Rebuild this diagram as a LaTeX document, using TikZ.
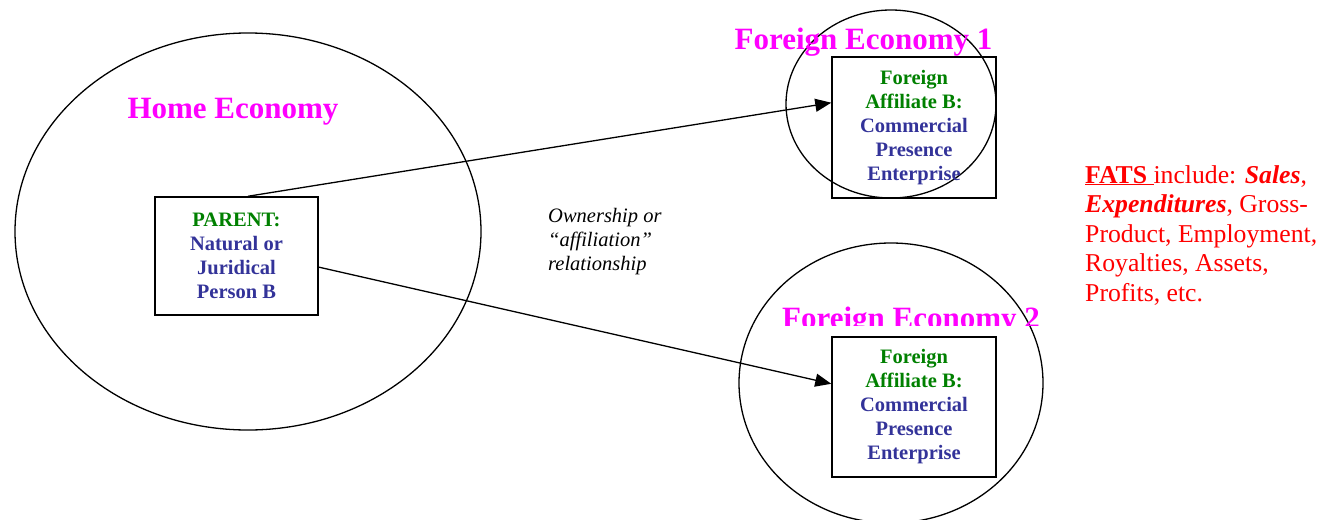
\documentclass[tikz,border=0pt]{standalone}
\usepackage{fontspec}
\setmainfont{LiberationSerif}[Extension=.ttf, UprightFont=*-Regular, BoldFont=*-Bold, ItalicFont=*-Italic, BoldItalicFont=*-BoldItalic]
\usetikzlibrary{shapes.geometric,arrows.meta,calc}
\definecolor{econmag}{RGB}{255,0,255}
\definecolor{pgreen}{RGB}{0,128,0}
\definecolor{pblue}{RGB}{51,51,153}
\definecolor{fred}{RGB}{255,0,0}
\tikzset{
  econring/.style={draw, ellipse, line width=1.3pt, inner sep=0pt},
  econlabel/.style={text=econmag, font=\bfseries\fontsize{31}{34}\selectfont, inner sep=0pt, anchor=base},
  entbox/.style={draw, rectangle, line width=1.5pt, inner sep=0pt, align=center,
     font=\bfseries\fontsize{20.5}{24}\selectfont, text=pblue},
  link/.style={line width=1.3pt, -{Triangle[length=16pt,width=13pt]}},
}
\begin{document}
\begin{tikzpicture}[x=1pt,y=-1pt]
\useasboundingbox (0,0) rectangle (1321,519);
% economies
\node[econring, minimum width=466pt, minimum height=397pt] (home) at (248,231.5) {};
\node[econring, minimum width=210pt, minimum height=188pt] (fe1) at (891,104) {};
\node[econring, minimum width=304pt, minimum height=280pt] (fe2) at (891,383) {};
% labels
\node[econlabel] (homelbl) at (233,118) {Home Economy};
\node[econlabel] (fe1lbl) at (863.5,49) {Foreign Economy 1};
\begin{scope}
  \clip (700,280) rectangle (1100,325);
  \node[econlabel] (fe2lbl) at (911,328) {Foreign Economy 2};
\end{scope}
% boxes
\node[entbox, minimum width=163pt, minimum height=118pt] (par) at (236.5,256)
  {\textcolor{pgreen}{PARENT:}\\Natural or\\Juridical\\Person B};
\node[entbox, minimum width=164pt, minimum height=141pt] (fa1) at (914,127.5)
  {\textcolor{pgreen}{Foreign}\\\textcolor{pgreen}{Affiliate B:}\\Commercial\\Presence\\Enterprise};
\node[entbox, minimum width=164pt, minimum height=140pt] (fa2) at (914,407)
  {\textcolor{pgreen}{Foreign}\\\textcolor{pgreen}{Affiliate B:}\\Commercial\\Presence\\Enterprise};
% connectors
\draw[link] ($(par.north west)!0.57!(par.north east)$) -- ($(fa1.north west)!0.326!(fa1.south west)$);
\draw[link] ($(par.north east)!0.593!(par.south east)$) -- ($(fa2.north west)!0.336!(fa2.south west)$);
% notes
\node[anchor=north west, inner sep=0pt, align=left, font=\itshape\fontsize{20.5}{24}\selectfont] (own) at (548,208)
  {Ownership or\\``affiliation''\\relationship};
\node[anchor=north west, inner sep=0pt, align=left, text=fred, font=\fontsize{25.7}{29.5}\selectfont] (fats) at (1085,165)
  {\textbf{\underline{FATS\ }}include: \textbf{\textit{Sales}},\\\textbf{\textit{Expenditures}}, Gross-\\Product, Employment,\\Royalties, Assets,\\Profits, etc.};
\end{tikzpicture}
\end{document}
